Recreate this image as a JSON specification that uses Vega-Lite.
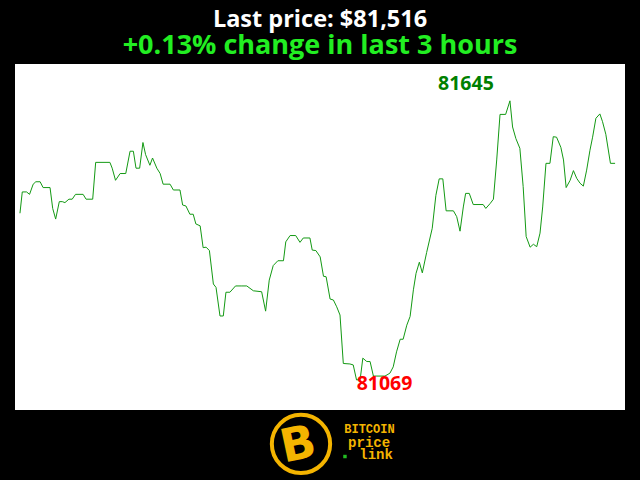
{
  "$schema": "https://vega.github.io/schema/vega-lite/v6.json",
  "autosize": "none",
  "width": 610,
  "height": 346,
  "padding": {"left": 15, "right": 15, "top": 64, "bottom": 70},
  "background": "black",
  "view": {"fill": "white", "stroke": null},
  "title": {
    "text": "Last price: $81,516",
    "subtitle": "+0.13% change in last 3 hours",
    "anchor": "middle",
    "font": "Open Sans",
    "fontWeight": "bold",
    "fontSize": 23.5,
    "color": "white",
    "subtitleFont": "Open Sans",
    "subtitleFontWeight": "bold",
    "subtitleFontSize": 27,
    "subtitleColor": "#22ee22",
    "subtitlePadding": 2,
    "offset": 5
  },
  "datasets": {
    "price": [
      {"t": 0, "v": 81413}, {"t": 0.7, "v": 81457}, {"t": 2.0, "v": 81457}, {"t": 2.9, "v": 81452},
      {"t": 4.0, "v": 81473}, {"t": 4.8, "v": 81478}, {"t": 6.1, "v": 81478}, {"t": 7.0, "v": 81466},
      {"t": 9.1, "v": 81466}, {"t": 9.9, "v": 81423}, {"t": 10.8, "v": 81401}, {"t": 11.9, "v": 81437},
      {"t": 12.8, "v": 81437}, {"t": 13.6, "v": 81435}, {"t": 14.8, "v": 81442}, {"t": 15.8, "v": 81442},
      {"t": 16.8, "v": 81452}, {"t": 19.1, "v": 81452}, {"t": 20.0, "v": 81442}, {"t": 22.0, "v": 81442},
      {"t": 22.9, "v": 81518}, {"t": 27.2, "v": 81518}, {"t": 27.9, "v": 81506}, {"t": 28.9, "v": 81481},
      {"t": 30.3, "v": 81495}, {"t": 32.0, "v": 81495}, {"t": 33.3, "v": 81541}, {"t": 34.3, "v": 81541},
      {"t": 35.1, "v": 81506}, {"t": 36.2, "v": 81506}, {"t": 37.2, "v": 81559}, {"t": 38.0, "v": 81534},
      {"t": 39.3, "v": 81512}, {"t": 40.1, "v": 81527}, {"t": 41.4, "v": 81506}, {"t": 42.4, "v": 81495},
      {"t": 43.3, "v": 81473}, {"t": 45.4, "v": 81473}, {"t": 46.4, "v": 81461}, {"t": 48.4, "v": 81461},
      {"t": 49.2, "v": 81430}, {"t": 50.2, "v": 81428}, {"t": 51.4, "v": 81411}, {"t": 52.4, "v": 81411},
      {"t": 53.2, "v": 81391}, {"t": 54.5, "v": 81387}, {"t": 55.4, "v": 81342}, {"t": 56.3, "v": 81343},
      {"t": 57.3, "v": 81336}, {"t": 58.5, "v": 81267}, {"t": 59.3, "v": 81260}, {"t": 60.5, "v": 81201},
      {"t": 61.5, "v": 81201}, {"t": 62.3, "v": 81250}, {"t": 63.5, "v": 81250}, {"t": 65.2, "v": 81263},
      {"t": 66.9, "v": 81263}, {"t": 68.6, "v": 81263}, {"t": 70.6, "v": 81253}, {"t": 73.1, "v": 81251},
      {"t": 74.3, "v": 81211}, {"t": 75.4, "v": 81275}, {"t": 76.6, "v": 81305}, {"t": 78.0, "v": 81315},
      {"t": 79.7, "v": 81315}, {"t": 80.4, "v": 81354}, {"t": 81.7, "v": 81367}, {"t": 83.4, "v": 81367},
      {"t": 84.7, "v": 81353}, {"t": 85.7, "v": 81362}, {"t": 87.7, "v": 81362}, {"t": 88.4, "v": 81337},
      {"t": 89.5, "v": 81336}, {"t": 90.8, "v": 81323}, {"t": 91.8, "v": 81283}, {"t": 92.6, "v": 81282},
      {"t": 93.8, "v": 81236}, {"t": 94.8, "v": 81234}, {"t": 95.8, "v": 81220}, {"t": 96.8, "v": 81203},
      {"t": 97.8, "v": 81103}, {"t": 99.8, "v": 81102}, {"t": 100.8, "v": 81100}, {"t": 101.8, "v": 81069},
      {"t": 102.9, "v": 81070}, {"t": 103.7, "v": 81114}, {"t": 104.9, "v": 81107}, {"t": 105.9, "v": 81107},
      {"t": 106.9, "v": 81077}, {"t": 110.4, "v": 81077}, {"t": 111.9, "v": 81083}, {"t": 112.9, "v": 81096},
      {"t": 113.9, "v": 81127}, {"t": 115.0, "v": 81153}, {"t": 115.9, "v": 81153}, {"t": 117.0, "v": 81182},
      {"t": 118.0, "v": 81200}, {"t": 119.0, "v": 81255}, {"t": 119.8, "v": 81289}, {"t": 120.8, "v": 81312},
      {"t": 121.7, "v": 81290}, {"t": 123.0, "v": 81332}, {"t": 124.7, "v": 81382}, {"t": 125.8, "v": 81450},
      {"t": 126.8, "v": 81484}, {"t": 127.9, "v": 81484}, {"t": 128.9, "v": 81418}, {"t": 131.1, "v": 81418},
      {"t": 132.1, "v": 81406}, {"t": 133.1, "v": 81376}, {"t": 134.1, "v": 81426}, {"t": 134.8, "v": 81454},
      {"t": 135.9, "v": 81454}, {"t": 137.1, "v": 81431}, {"t": 140.1, "v": 81431}, {"t": 140.9, "v": 81423},
      {"t": 142.2, "v": 81433}, {"t": 143.2, "v": 81442}, {"t": 144.2, "v": 81523}, {"t": 145.2, "v": 81617},
      {"t": 146.9, "v": 81617}, {"t": 148.2, "v": 81645}, {"t": 149.0, "v": 81591}, {"t": 150.0, "v": 81567},
      {"t": 151.2, "v": 81547}, {"t": 152.2, "v": 81468}, {"t": 153.1, "v": 81365}, {"t": 154.3, "v": 81343},
      {"t": 155.3, "v": 81349}, {"t": 156.3, "v": 81344}, {"t": 157.3, "v": 81372}, {"t": 158.1, "v": 81426},
      {"t": 159.1, "v": 81516}, {"t": 160.3, "v": 81516}, {"t": 161.3, "v": 81571}, {"t": 162.3, "v": 81570},
      {"t": 163.6, "v": 81549}, {"t": 164.4, "v": 81523}, {"t": 165.2, "v": 81466}, {"t": 166.4, "v": 81481},
      {"t": 167.4, "v": 81501}, {"t": 168.4, "v": 81485}, {"t": 169.4, "v": 81475}, {"t": 170.4, "v": 81469},
      {"t": 171.4, "v": 81502}, {"t": 172.4, "v": 81543}, {"t": 173.2, "v": 81570}, {"t": 174.2, "v": 81609},
      {"t": 175.4, "v": 81618}, {"t": 176.2, "v": 81602}, {"t": 177.2, "v": 81576}, {"t": 178.6, "v": 81516},
      {"t": 180, "v": 81516}
    ],
    "one": [{}]
  },
  "data": {"name": "price"},
  "layer": [
    {
      "mark": {"type": "line", "color": "#139913", "strokeWidth": 1},
      "encoding": {
        "x": {"field": "t", "type": "quantitative", "scale": {"domain": [-1.5, 183], "nice": false, "zero": false}, "axis": null},
        "y": {"field": "v", "type": "quantitative", "scale": {"domain": [81007, 81721], "nice": false, "zero": false}, "axis": null}
      }
    },
    {
      "transform": [
        {"joinaggregate": [{"op": "max", "field": "v", "as": "vmax"}]},
        {"filter": "datum.v === datum.vmax"}
      ],
      "mark": {"type": "text", "font": "Open Sans", "fontWeight": "bold", "fontSize": 19.5, "color": "#008000", "align": "center", "baseline": "alphabetic", "dx": -44, "dy": -10.5},
      "encoding": {
        "x": {"field": "t", "type": "quantitative"},
        "y": {"field": "v", "type": "quantitative"},
        "text": {"field": "v", "type": "quantitative", "format": "d"}
      }
    },
    {
      "transform": [
        {"joinaggregate": [{"op": "min", "field": "v", "as": "vmin"}]},
        {"filter": "datum.v === datum.vmin"}
      ],
      "mark": {"type": "text", "font": "Open Sans", "fontWeight": "bold", "fontSize": 19.5, "color": "#ff0000", "align": "center", "baseline": "alphabetic", "dx": 28, "dy": 10},
      "encoding": {
        "x": {"field": "t", "type": "quantitative"},
        "y": {"field": "v", "type": "quantitative"},
        "text": {"field": "v", "type": "quantitative", "format": "d"}
      }
    },
    {
      "data": {"name": "one"},
      "mark": {"type": "point", "shape": "circle", "filled": false, "stroke": "#f4b400", "strokeWidth": 4, "size": 3400, "opacity": 1},
      "encoding": {"x": {"datum": 85.0, "type": "quantitative"}, "y": {"datum": 80937, "type": "quantitative"}}
    },
    {
      "data": {"name": "one"},
      "mark": {"type": "text", "text": "B", "font": "DejaVu Sans", "fontWeight": "bold", "fontSize": 46, "color": "#f4b400", "angle": -12, "align": "center", "baseline": "middle"},
      "encoding": {"x": {"datum": 84.2, "type": "quantitative"}, "y": {"datum": 80934, "type": "quantitative"}}
    },
    {
      "data": {"name": "one"},
      "mark": {"type": "text", "text": "BITCOIN", "font": "Liberation Mono", "fontWeight": "bold", "fontSize": 12, "color": "#f4b400", "align": "center", "baseline": "alphabetic"},
      "encoding": {"x": {"datum": 105.7, "type": "quantitative"}, "y": {"datum": 80959, "type": "quantitative"}}
    },
    {
      "data": {"name": "one"},
      "mark": {"type": "text", "text": "price", "font": "Liberation Mono", "fontWeight": "bold", "fontSize": 14, "color": "#f4b400", "align": "center", "baseline": "alphabetic"},
      "encoding": {"x": {"datum": 105.6, "type": "quantitative"}, "y": {"datum": 80931, "type": "quantitative"}}
    },
    {
      "data": {"name": "one"},
      "mark": {"type": "text", "text": "link", "font": "Liberation Mono", "fontWeight": "bold", "fontSize": 14, "color": "#f4b400", "align": "center", "baseline": "alphabetic"},
      "encoding": {"x": {"datum": 107.7, "type": "quantitative"}, "y": {"datum": 80905, "type": "quantitative"}}
    },
    {
      "data": {"name": "one"},
      "mark": {"type": "square", "color": "#22bb22", "size": 12, "opacity": 1},
      "encoding": {"x": {"datum": 98.3, "type": "quantitative"}, "y": {"datum": 80911, "type": "quantitative"}}
    }
  ]
}
